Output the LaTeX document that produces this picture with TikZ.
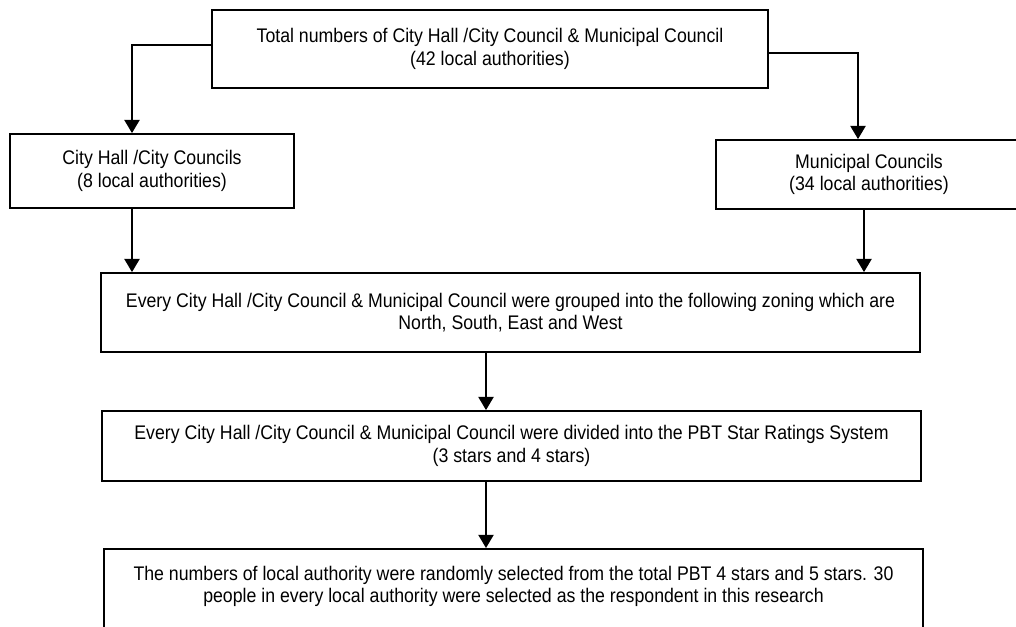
\documentclass[tikz,border=0pt]{standalone}
\usepackage{fontspec}
\setmainfont[FakeStretch=0.9]{Liberation Sans}
\usetikzlibrary{arrows.meta}

\begin{document}
\begin{tikzpicture}[
  x=0.025cm, y=-0.025cm,
  font=\fontsize{14}{15.8}\selectfont,
  box/.style={draw, line width=1.3pt, align=center, inner sep=0pt},
  arrow/.style={line width=1.2pt, -{Triangle[width=3.8mm,length=3.3mm]}}
]
  \clip (0,0) rectangle (1016,626);
  \node[box, minimum width=556*0.025cm, minimum height=78*0.025cm] (total) at (490,49)
    {Total numbers of City Hall /City Council \& Municipal Council\\(42 local authorities)};
  \node[box, minimum width=284*0.025cm, minimum height=74*0.025cm] (cityhall) at (152,171)
    {City Hall /City Councils\\(8 local authorities)};
  \node[box, minimum width=306*0.025cm, minimum height=69*0.025cm] (municipal) at (869,174.5)
    {Municipal Councils\\(34 local authorities)};
  \node[box, minimum width=819*0.025cm, minimum height=79*0.025cm] (zoning) at (510.5,312.5)
    {Every City Hall /City Council \& Municipal Council were grouped into the following zoning which are\\North, South, East and West};
  \node[box, minimum width=819*0.025cm, minimum height=70*0.025cm] (rating) at (511.5,446)
    {Every City Hall /City Council \& Municipal Council were divided into the PBT Star Ratings System\\(3 stars and 4 stars)};
  \node[box, minimum width=819*0.025cm, minimum height=120*0.025cm, anchor=north] (sample) at (513.5,548) {};
  \node[align=center, anchor=north, inner sep=0pt] (sampletxt) at (513.5,566)
    {The numbers of local authority were randomly selected from the total PBT 4 stars and 5 stars. 30\\people in every local authority were selected as the respondent in this research};
  \coordinate (lx) at (132,0);
  \coordinate (rx) at (858,0);
  \coordinate (rx2) at (864,0);
  \coordinate (mx) at (486,0);
  \draw[arrow] ([yshift=1mm]total.west) -| (cityhall.north -| lx);
  \draw[arrow] ([yshift=-1mm]total.east) -| (municipal.north -| rx);
  \draw[arrow] (cityhall.south -| lx) -- (zoning.north -| lx);
  \draw[arrow] (municipal.south -| rx2) -- (zoning.north -| rx2);
  \draw[arrow] (zoning.south -| mx) -- (rating.north -| mx);
  \draw[arrow] (rating.south -| mx) -- (sample.north -| mx);
\end{tikzpicture}
\end{document}
